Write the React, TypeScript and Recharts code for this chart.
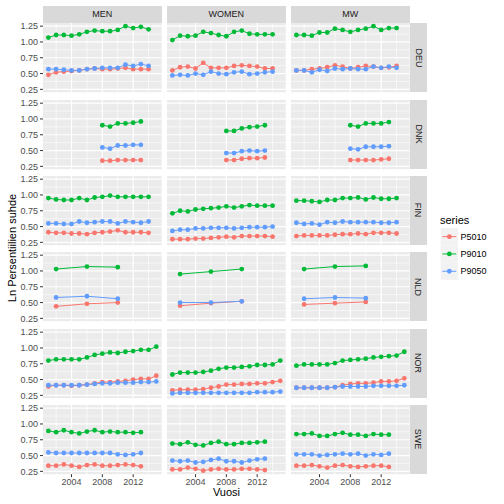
import React from 'react';
import { LineChart, Line, XAxis, YAxis, CartesianGrid } from 'recharts';

// facets
const GROUPS = ['MEN', 'WOMEN', 'MW'];
const COUNTRIES = ['DEU', 'DNK', 'FIN', 'NLD', 'NOR', 'SWE'];
const SERIES = ['P5010', 'P9010', 'P9050'];
const COLORS: Record<string, string> = { P5010: '#F8766D', P9010: '#00BA38', P9050: '#619CFF' };

// axes
const X_TICKS = [2004, 2008, 2012];
const X_MINOR = [2002, 2006, 2010, 2014];
const Y_TICKS = [0.25, 0.5, 0.75, 1.0, 1.25];
const Y_MINOR = [0.375, 0.625, 0.875, 1.125];

// years per country
const YEARS_DEU = [2001, 2002, 2003, 2004, 2005, 2006, 2007, 2008, 2009, 2010, 2011, 2012, 2013, 2014];
const YEARS_DNK = [2008, 2009, 2010, 2011, 2012, 2013];
const YEARS_FIN = [2001, 2002, 2003, 2004, 2005, 2006, 2007, 2008, 2009, 2010, 2011, 2012, 2013, 2014];
const YEARS_NLD = [2002, 2006, 2010];
const YEARS_NOR = [2001, 2002, 2003, 2004, 2005, 2006, 2007, 2008, 2009, 2010, 2011, 2012, 2013, 2014, 2015];
const YEARS_SWE = [2001, 2002, 2003, 2004, 2005, 2006, 2007, 2008, 2009, 2010, 2011, 2012, 2013];

// DEU
const DEU_MEN_P5010 = [0.48, 0.52, 0.53, 0.54, 0.55, 0.57, 0.58, 0.57, 0.57, 0.58, 0.59, 0.57, 0.57, 0.57];
const DEU_MEN_P9010 = [1.07, 1.11, 1.11, 1.10, 1.12, 1.16, 1.18, 1.17, 1.17, 1.19, 1.25, 1.22, 1.24, 1.20];
const DEU_MEN_P9050 = [0.57, 0.57, 0.56, 0.55, 0.55, 0.57, 0.58, 0.59, 0.59, 0.59, 0.64, 0.62, 0.65, 0.62];
const DEU_WOMEN_P5010 = [0.55, 0.60, 0.61, 0.58, 0.67, 0.59, 0.59, 0.59, 0.62, 0.63, 0.62, 0.61, 0.58, 0.58];
const DEU_WOMEN_P9010 = [1.03, 1.10, 1.09, 1.10, 1.16, 1.14, 1.11, 1.09, 1.16, 1.18, 1.13, 1.12, 1.12, 1.12];
const DEU_WOMEN_P9050 = [0.47, 0.48, 0.47, 0.50, 0.48, 0.53, 0.50, 0.49, 0.52, 0.53, 0.49, 0.50, 0.52, 0.53];
const DEU_MW_P5010 = [0.55, 0.55, 0.57, 0.58, 0.60, 0.63, 0.61, 0.58, 0.60, 0.62, 0.61, 0.59, 0.60, 0.62];
const DEU_MW_P9010 = [1.11, 1.11, 1.10, 1.15, 1.15, 1.21, 1.19, 1.16, 1.19, 1.21, 1.25, 1.19, 1.22, 1.22];
const DEU_MW_P9050 = [0.55, 0.55, 0.52, 0.56, 0.54, 0.58, 0.57, 0.58, 0.57, 0.57, 0.61, 0.59, 0.61, 0.59];

// DNK
const DNK_MEN_P5010 = [0.34, 0.34, 0.35, 0.35, 0.35, 0.35];
const DNK_MEN_P9010 = [0.90, 0.88, 0.93, 0.93, 0.94, 0.96];
const DNK_MEN_P9050 = [0.55, 0.53, 0.58, 0.58, 0.59, 0.59];
const DNK_WOMEN_P5010 = [0.35, 0.35, 0.37, 0.38, 0.38, 0.39];
const DNK_WOMEN_P9010 = [0.81, 0.81, 0.85, 0.87, 0.88, 0.90];
const DNK_WOMEN_P9050 = [0.46, 0.46, 0.49, 0.50, 0.49, 0.50];
const DNK_MW_P5010 = [0.35, 0.35, 0.35, 0.35, 0.36, 0.37];
const DNK_MW_P9010 = [0.90, 0.88, 0.93, 0.93, 0.93, 0.95];
const DNK_MW_P9050 = [0.53, 0.52, 0.56, 0.56, 0.56, 0.57];

// FIN
const FIN_MEN_P5010 = [0.41, 0.40, 0.40, 0.39, 0.39, 0.38, 0.40, 0.41, 0.42, 0.44, 0.41, 0.41, 0.41, 0.40];
const FIN_MEN_P9010 = [0.95, 0.93, 0.92, 0.92, 0.95, 0.92, 0.96, 0.97, 0.99, 0.97, 0.97, 0.97, 0.97, 0.97];
const FIN_MEN_P9050 = [0.55, 0.55, 0.54, 0.54, 0.58, 0.56, 0.57, 0.58, 0.58, 0.55, 0.58, 0.57, 0.56, 0.58];
const FIN_WOMEN_P5010 = [0.30, 0.30, 0.30, 0.31, 0.31, 0.32, 0.33, 0.34, 0.33, 0.35, 0.35, 0.35, 0.35, 0.34];
const FIN_WOMEN_P9010 = [0.71, 0.75, 0.74, 0.77, 0.78, 0.79, 0.80, 0.82, 0.80, 0.82, 0.84, 0.83, 0.83, 0.83];
const FIN_WOMEN_P9050 = [0.43, 0.45, 0.45, 0.47, 0.47, 0.48, 0.48, 0.48, 0.47, 0.48, 0.49, 0.49, 0.49, 0.50];
const FIN_MW_P5010 = [0.35, 0.36, 0.36, 0.36, 0.36, 0.37, 0.38, 0.38, 0.39, 0.38, 0.40, 0.40, 0.40, 0.39];
const FIN_MW_P9010 = [0.91, 0.91, 0.90, 0.89, 0.92, 0.92, 0.95, 0.95, 0.96, 0.93, 0.96, 0.94, 0.94, 0.95];
const FIN_MW_P9050 = [0.56, 0.54, 0.55, 0.53, 0.57, 0.56, 0.58, 0.57, 0.57, 0.57, 0.57, 0.56, 0.56, 0.57];

// NLD
const NLD_MEN_P5010 = [0.44, 0.48, 0.50];
const NLD_MEN_P9010 = [1.03, 1.07, 1.06];
const NLD_MEN_P9050 = [0.58, 0.60, 0.56];
const NLD_WOMEN_P5010 = [0.45, 0.49, 0.52];
const NLD_WOMEN_P9010 = [0.95, 0.99, 1.03];
const NLD_WOMEN_P9050 = [0.50, 0.50, 0.52];
const NLD_MW_P5010 = [0.47, 0.49, 0.51];
const NLD_MW_P9010 = [1.03, 1.07, 1.08];
const NLD_MW_P9050 = [0.56, 0.58, 0.57];

// NOR
const NOR_MEN_P5010 = [0.39, 0.41, 0.41, 0.40, 0.41, 0.42, 0.44, 0.46, 0.46, 0.47, 0.48, 0.50, 0.51, 0.51, 0.56];
const NOR_MEN_P9010 = [0.80, 0.82, 0.82, 0.82, 0.82, 0.85, 0.89, 0.91, 0.93, 0.92, 0.94, 0.95, 0.97, 0.97, 1.02];
const NOR_MEN_P9050 = [0.41, 0.41, 0.41, 0.41, 0.41, 0.42, 0.43, 0.44, 0.44, 0.45, 0.45, 0.45, 0.46, 0.46, 0.47];
const NOR_WOMEN_P5010 = [0.33, 0.34, 0.34, 0.34, 0.35, 0.37, 0.39, 0.42, 0.42, 0.43, 0.43, 0.44, 0.44, 0.46, 0.48];
const NOR_WOMEN_P9010 = [0.58, 0.61, 0.61, 0.61, 0.62, 0.64, 0.67, 0.69, 0.69, 0.70, 0.71, 0.73, 0.73, 0.74, 0.80];
const NOR_WOMEN_P9050 = [0.28, 0.29, 0.29, 0.29, 0.29, 0.29, 0.29, 0.29, 0.29, 0.29, 0.29, 0.30, 0.30, 0.30, 0.31];
const NOR_MW_P5010 = [0.37, 0.37, 0.37, 0.37, 0.37, 0.38, 0.41, 0.43, 0.44, 0.44, 0.45, 0.47, 0.47, 0.48, 0.52];
const NOR_MW_P9010 = [0.72, 0.74, 0.74, 0.74, 0.74, 0.76, 0.80, 0.81, 0.82, 0.83, 0.85, 0.86, 0.87, 0.88, 0.94];
const NOR_MW_P9050 = [0.37, 0.37, 0.37, 0.37, 0.37, 0.38, 0.39, 0.39, 0.39, 0.39, 0.40, 0.40, 0.40, 0.40, 0.41];

// SWE
const SWE_MEN_P5010 = [0.34, 0.34, 0.36, 0.34, 0.32, 0.35, 0.36, 0.34, 0.34, 0.35, 0.36, 0.35, 0.33];
const SWE_MEN_P9010 = [0.89, 0.87, 0.90, 0.87, 0.85, 0.88, 0.90, 0.87, 0.88, 0.87, 0.87, 0.86, 0.87];
const SWE_MEN_P9050 = [0.55, 0.54, 0.54, 0.54, 0.54, 0.54, 0.54, 0.54, 0.54, 0.52, 0.51, 0.52, 0.54];
const SWE_WOMEN_P5010 = [0.28, 0.28, 0.31, 0.29, 0.26, 0.28, 0.29, 0.28, 0.28, 0.29, 0.29, 0.28, 0.27];
const SWE_WOMEN_P9010 = [0.69, 0.68, 0.71, 0.67, 0.66, 0.70, 0.72, 0.68, 0.68, 0.70, 0.70, 0.71, 0.72];
const SWE_WOMEN_P9050 = [0.42, 0.41, 0.42, 0.39, 0.40, 0.43, 0.45, 0.41, 0.41, 0.39, 0.42, 0.44, 0.45];
const SWE_MW_P5010 = [0.34, 0.34, 0.35, 0.33, 0.31, 0.34, 0.35, 0.33, 0.32, 0.33, 0.34, 0.34, 0.32];
const SWE_MW_P9010 = [0.84, 0.84, 0.85, 0.81, 0.81, 0.84, 0.86, 0.83, 0.83, 0.81, 0.84, 0.83, 0.83];
const SWE_MW_P9050 = [0.52, 0.52, 0.52, 0.50, 0.51, 0.52, 0.53, 0.52, 0.53, 0.50, 0.52, 0.51, 0.53];

const YEARS: Record<string, number[]> = {
  DEU: YEARS_DEU, DNK: YEARS_DNK, FIN: YEARS_FIN, NLD: YEARS_NLD, NOR: YEARS_NOR, SWE: YEARS_SWE,
};

const VALUES: Record<string, number[][]> = {
  DEU_MEN: [DEU_MEN_P5010, DEU_MEN_P9010, DEU_MEN_P9050],
  DEU_WOMEN: [DEU_WOMEN_P5010, DEU_WOMEN_P9010, DEU_WOMEN_P9050],
  DEU_MW: [DEU_MW_P5010, DEU_MW_P9010, DEU_MW_P9050],
  DNK_MEN: [DNK_MEN_P5010, DNK_MEN_P9010, DNK_MEN_P9050],
  DNK_WOMEN: [DNK_WOMEN_P5010, DNK_WOMEN_P9010, DNK_WOMEN_P9050],
  DNK_MW: [DNK_MW_P5010, DNK_MW_P9010, DNK_MW_P9050],
  FIN_MEN: [FIN_MEN_P5010, FIN_MEN_P9010, FIN_MEN_P9050],
  FIN_WOMEN: [FIN_WOMEN_P5010, FIN_WOMEN_P9010, FIN_WOMEN_P9050],
  FIN_MW: [FIN_MW_P5010, FIN_MW_P9010, FIN_MW_P9050],
  NLD_MEN: [NLD_MEN_P5010, NLD_MEN_P9010, NLD_MEN_P9050],
  NLD_WOMEN: [NLD_WOMEN_P5010, NLD_WOMEN_P9010, NLD_WOMEN_P9050],
  NLD_MW: [NLD_MW_P5010, NLD_MW_P9010, NLD_MW_P9050],
  NOR_MEN: [NOR_MEN_P5010, NOR_MEN_P9010, NOR_MEN_P9050],
  NOR_WOMEN: [NOR_WOMEN_P5010, NOR_WOMEN_P9010, NOR_WOMEN_P9050],
  NOR_MW: [NOR_MW_P5010, NOR_MW_P9010, NOR_MW_P9050],
  SWE_MEN: [SWE_MEN_P5010, SWE_MEN_P9010, SWE_MEN_P9050],
  SWE_WOMEN: [SWE_WOMEN_P5010, SWE_WOMEN_P9010, SWE_WOMEN_P9050],
  SWE_MW: [SWE_MW_P5010, SWE_MW_P9010, SWE_MW_P9050],
};

// layout (px)
const COL_LEFT = [43, 167, 291];
const PANEL_W = 118.7;
const ROW_TOP0 = 23.3;
const ROW_STEP = 76.3;
const PANEL_H = 69.2;
const STRIP = 17.6;
const AXIS_W = 43;
const AXIS_H = 20;
const PAD = 6; // room so edge tick labels are not clipped

const FONT = '"Liberation Sans", Arial, Helvetica, sans-serif';

function buildRows(country: string, group: string) {
  const vals = VALUES[`${country}_${group}`];
  return YEARS[country].map((year, i) => ({
    year,
    P5010: vals[0][i],
    P9010: vals[1][i],
    P9050: vals[2][i],
  }));
}

function Panel({ country, group, r, c }: { country: string; group: string; r: number; c: number }) {
  const showY = c === 0;
  const showX = r === COUNTRIES.length - 1;
  const padBottom = showX ? 0 : PAD;
  const width = PANEL_W + (showY ? AXIS_W : 0);
  const height = PAD + PANEL_H + padBottom + (showX ? AXIS_H : 0);
  const left = COL_LEFT[c] - (showY ? AXIS_W : 0);
  const top = ROW_TOP0 + r * ROW_STEP - PAD;
  return (
    <div style={{ position: 'absolute', left, top, width, height }}>
      <LineChart
        width={width}
        height={height}
        data={buildRows(country, group)}
        margin={{ top: PAD, right: 0, bottom: padBottom, left: 0 }}
      >
        <CartesianGrid
          fill="#EBEBEB"
          fillOpacity={1}
          stroke="#FFFFFF"
          strokeWidth={0.6}
          horizontalValues={Y_MINOR}
          verticalValues={X_MINOR}
        />
        <CartesianGrid stroke="#FFFFFF" strokeWidth={1.2} horizontalValues={Y_TICKS} verticalValues={X_TICKS} />
        <XAxis
          type="number"
          dataKey="year"
          domain={[2000.3, 2015.7]}
          allowDataOverflow
          ticks={X_TICKS}
          interval={0}
          hide={!showX}
          height={AXIS_H}
          axisLine={false}
          tickSize={3}
          tickMargin={1}
          tickLine={{ stroke: '#333333' }}
          tick={{ fill: '#4D4D4D', fontSize: 9 }}
        />
        <YAxis
          type="number"
          domain={[0.205, 1.3]}
          allowDataOverflow
          ticks={Y_TICKS}
          interval={0}
          tickFormatter={(v: number) => v.toFixed(2)}
          hide={!showY}
          width={AXIS_W}
          axisLine={false}
          tickSize={3}
          tickMargin={2}
          tickLine={{ stroke: '#333333' }}
          tick={{ fill: '#4D4D4D', fontSize: 9 }}
        />
        {SERIES.map((s) => (
          <Line
            key={s}
            type="linear"
            dataKey={s}
            stroke={COLORS[s]}
            strokeWidth={1}
            dot={{ r: 2.4, fill: COLORS[s], stroke: COLORS[s], strokeWidth: 0 }}
            isAnimationActive={false}
          />
        ))}
      </LineChart>
    </div>
  );
}

function Legend() {
  const keyTop = 228;
  const step = 17.3;
  return (
    <svg style={{ position: 'absolute', left: 438, top: 210 }} width={66} height={80}>
      <text x={2} y={14} fontSize={11} fill="#000000">series</text>
      {SERIES.map((s, i) => {
        const cy = keyTop - 210 + step / 2 + i * step;
        return (
          <g key={s}>
            <rect x={2.7} y={cy - step / 2} width={step} height={step} fill="#F2F2F2" />
            <line x1={4.4} x2={18.3} y1={cy} y2={cy} stroke={COLORS[s]} strokeWidth={1} />
            <circle cx={11.35} cy={cy} r={2.4} fill={COLORS[s]} />
            <text x={22.5} y={cy + 3.2} fontSize={9} fill="#000000">{s}</text>
          </g>
        );
      })}
    </svg>
  );
}

export default function App() {
  return (
    <div style={{ position: 'absolute', left: 0, top: 0, width: 504, height: 504, background: '#FFFFFF', fontFamily: FONT }}>
      {GROUPS.map((g, c) => (
        <div
          key={g}
          style={{
            position: 'absolute', left: COL_LEFT[c], top: ROW_TOP0 - STRIP, width: PANEL_W, height: STRIP,
            background: '#D9D9D9', color: '#1A1A1A', fontSize: 9, lineHeight: `${STRIP}px`, textAlign: 'center',
          }}
        >
          {g}
        </div>
      ))}
      {COUNTRIES.map((k, r) => (
        <div
          key={k}
          style={{
            position: 'absolute', left: COL_LEFT[2] + PANEL_W, top: ROW_TOP0 + r * ROW_STEP, width: STRIP, height: PANEL_H,
            background: '#D9D9D9', color: '#1A1A1A', fontSize: 9,
            display: 'flex', alignItems: 'center', justifyContent: 'center',
          }}
        >
          <span style={{ transform: 'rotate(90deg)', whiteSpace: 'nowrap' }}>{k}</span>
        </div>
      ))}
      {COUNTRIES.map((k, r) =>
        GROUPS.map((g, c) => <Panel key={`${k}_${g}`} country={k} group={g} r={r} c={c} />)
      )}
      <div
        style={{
          position: 'absolute', left: 12, top: 248, fontSize: 11, color: '#000000', whiteSpace: 'nowrap',
          transform: 'translate(-50%, -50%) rotate(-90deg)',
        }}
      >
        Ln Persentiilien suhde
      </div>
      <div
        style={{
          position: 'absolute', left: 226.5, top: 492, fontSize: 11, color: '#000000', whiteSpace: 'nowrap',
          transform: 'translate(-50%, -50%)',
        }}
      >
        Vuosi
      </div>
      <Legend />
    </div>
  );
}
